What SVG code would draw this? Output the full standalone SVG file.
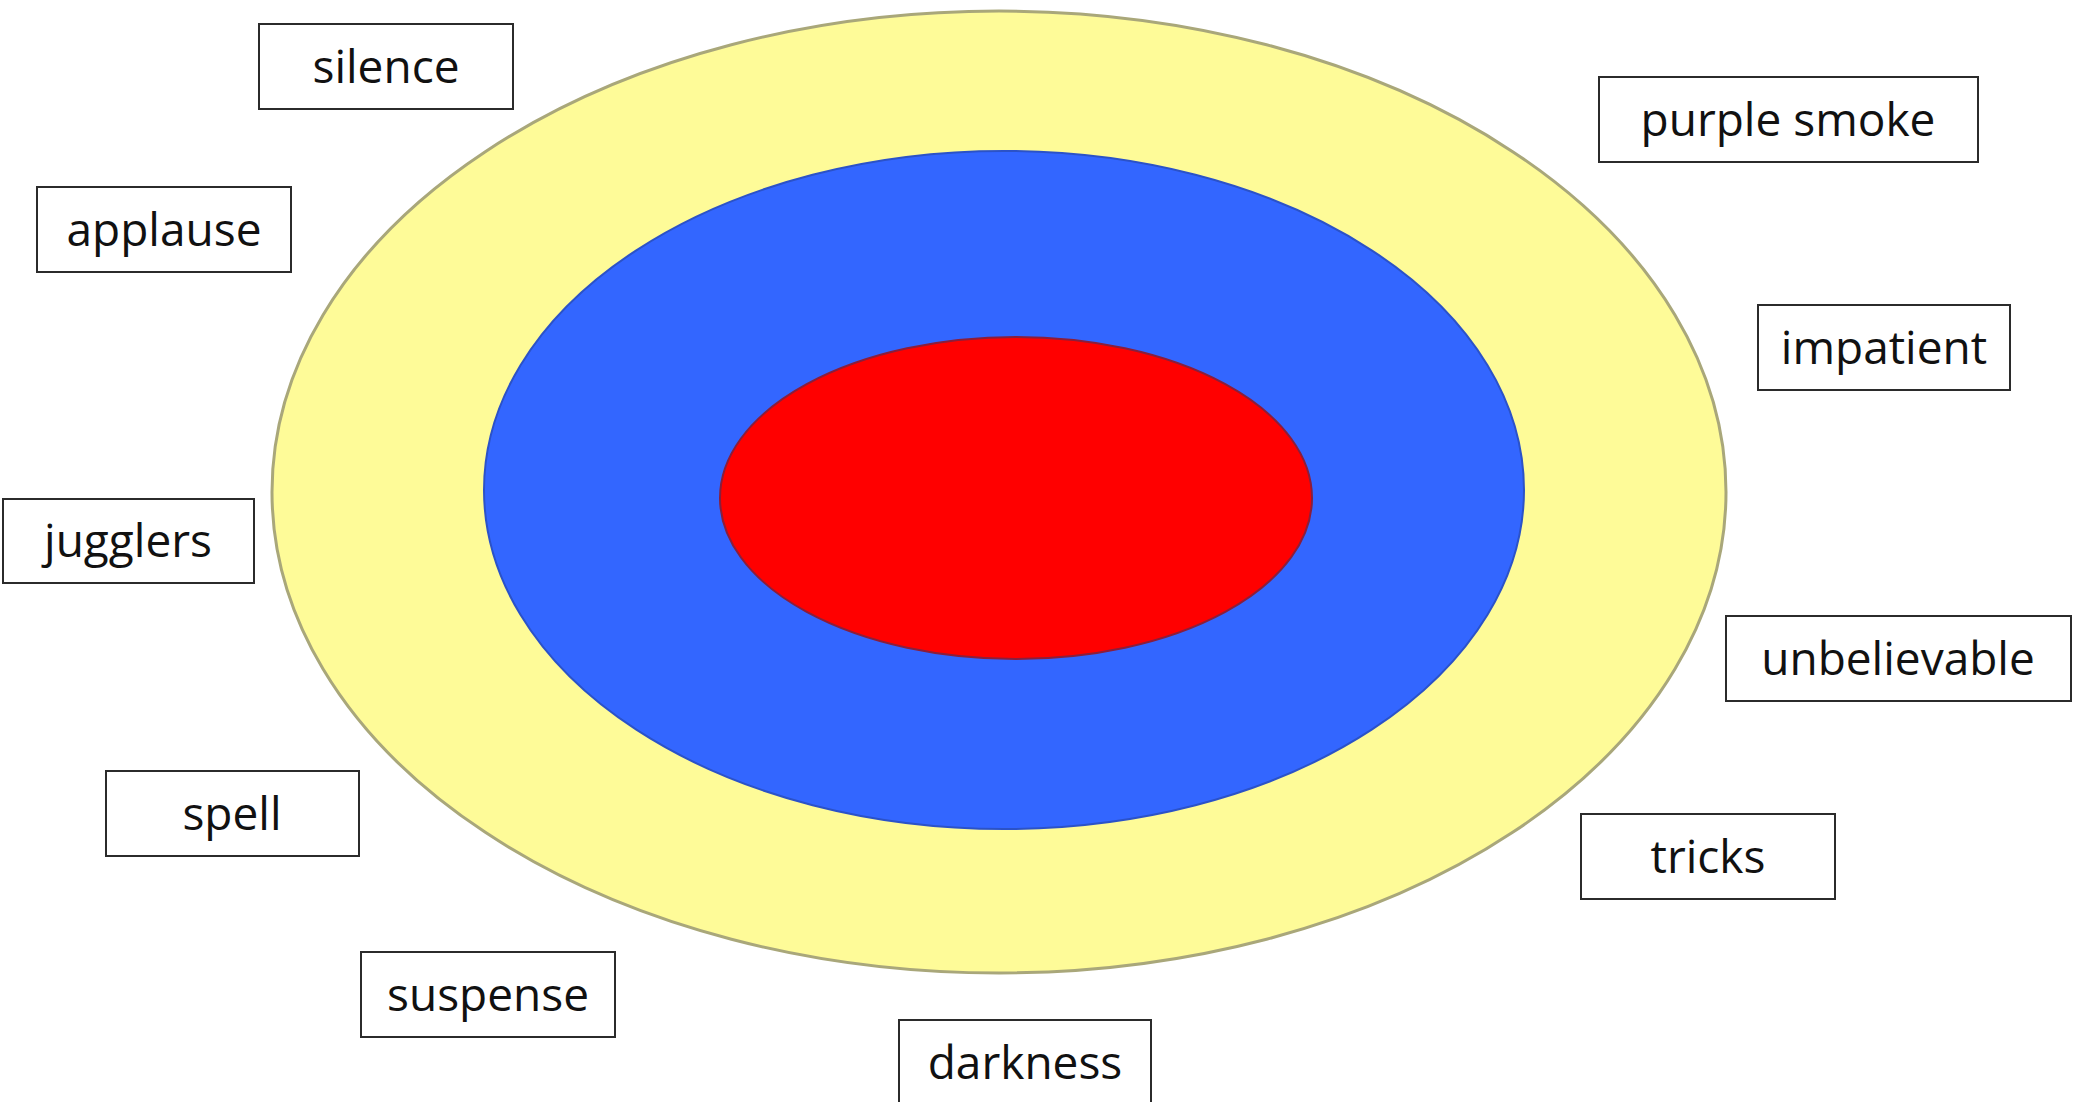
<svg xmlns="http://www.w3.org/2000/svg" width="2082" height="1102" viewBox="0 0 2082 1102">
<style>
.box{fill:#fff;stroke:#2b2b2b;stroke-width:2}
.lbl{font-family:"Open Sans","Liberation Sans",sans-serif;font-size:46px;fill:#111;text-anchor:middle}
</style>
<rect width="2082" height="1102" fill="#fff"/>
<g id="rings">
<ellipse id="outer" cx="999" cy="492" rx="727" ry="481" fill="#FEFB98" stroke="#A9A77A" stroke-width="3"/>
<ellipse id="middle" cx="1004" cy="490" rx="520" ry="339" fill="#3366FF" stroke="#2B52C8" stroke-width="2"/>
<ellipse id="inner" cx="1016" cy="498" rx="296" ry="161" fill="#FF0000" stroke="#8A1E3C" stroke-width="2"/>
</g>
<g id="connectors"></g>
<g id="n-silence"><rect class="box" x="259" y="24" width="254" height="85"/><text class="lbl" x="386" y="83">silence</text></g>
<g id="n-applause"><rect class="box" x="37" y="187" width="254" height="85"/><text class="lbl" x="164" y="246">applause</text></g>
<g id="n-jugglers"><rect class="box" x="3" y="499" width="251" height="84"/><text class="lbl" x="128" y="557">jugglers</text></g>
<g id="n-spell"><rect class="box" x="106" y="771" width="253" height="85"/><text class="lbl" x="232" y="830">spell</text></g>
<g id="n-suspense"><rect class="box" x="361" y="952" width="254" height="85"/><text class="lbl" x="488" y="1011">suspense</text></g>
<g id="n-darkness"><rect class="box" x="899" y="1020" width="252" height="90"/><text class="lbl" x="1025" y="1079">darkness</text></g>
<g id="n-purple"><rect class="box" x="1599" y="77" width="379" height="85"/><text class="lbl" x="1788" y="136">purple smoke</text></g>
<g id="n-impatient"><rect class="box" x="1758" y="305" width="252" height="85"/><text class="lbl" x="1884" y="364">impatient</text></g>
<g id="n-unbelievable"><rect class="box" x="1726" y="616" width="345" height="85"/><text class="lbl" x="1898" y="675">unbelievable</text></g>
<g id="n-tricks"><rect class="box" x="1581" y="814" width="254" height="85"/><text class="lbl" x="1708" y="873">tricks</text></g>
</svg>
